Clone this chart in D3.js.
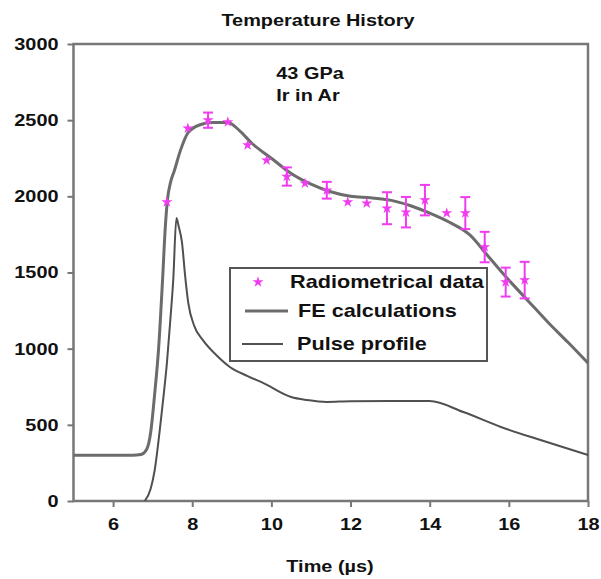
<!DOCTYPE html>
<html>
<head>
<meta charset="utf-8">
<script src="https://cdn.jsdelivr.net/npm/d3@7"></script>
<style>
  body { margin: 0; background: #fff; }
  svg { display: block; }
</style>
</head>
<body>
<svg id="chart" width="601" height="579"></svg>
<script>
// radiometrical data (time in us, temperature in K, error bar half-height)
var dataTime = [7.36, 7.89, 8.4, 8.9, 9.4, 9.88, 10.39, 10.85, 11.4, 11.93, 12.41, 12.92, 13.4, 13.88, 14.43, 14.9, 15.39, 15.92, 16.4];
var dataTemp = [1962, 2447, 2500, 2487, 2336, 2237, 2130, 2085, 2040, 1962, 1955, 1922, 1896, 1975, 1890, 1890, 1667, 1437, 1450];
var dataErr = [0, 0, 50, 0, 0, 0, 60, 0, 55, 0, 0, 105, 100, 100, 0, 105, 100, 95, 120];

// FE calculations
var feTime = [5, 6.5, 6.7, 6.85, 6.95, 7.05, 7.15, 7.25, 7.32, 7.38, 7.45, 7.55, 7.7, 7.9, 8.2, 8.5, 8.9, 9.2, 9.5, 10, 10.5, 11, 11.5, 12, 12.5, 13, 13.5, 14, 14.5, 15, 15.5, 16, 16.5, 17, 17.5, 18];
var feTemp = [300, 300, 305, 340, 450, 700, 1000, 1450, 1800, 1990, 2090, 2170, 2300, 2420, 2470, 2485, 2485, 2430, 2350, 2250, 2150, 2080, 2030, 2000, 1990, 1975, 1940, 1890, 1830, 1750, 1600, 1450, 1310, 1170, 1040, 905];

// pulse profile
var pulseTime = [6.8, 6.95, 7.05, 7.18, 7.28, 7.36, 7.45, 7.52, 7.6, 7.66, 7.74, 7.82, 7.9, 8.05, 8.27, 8.6, 8.95, 9.4, 9.8, 10.5, 10.9, 11.4, 12, 13, 14, 14.85, 15.8, 16.8, 18];
var pulseTemp = [0, 80, 200, 466, 700, 905, 1200, 1450, 1857, 1800, 1700, 1480, 1300, 1150, 1056, 960, 880, 820, 774, 683, 663, 650, 655, 656, 656, 584, 486, 400, 302];

var xTicks = [6, 8, 10, 12, 14, 16, 18];
var yTicks = [0, 500, 1000, 1500, 2000, 2500, 3000];

var svg = d3.select("svg#chart"),
    margin = { left: 73.5, top: 44, right: 13, bottom: 78 },
    width = +svg.attr("width"),
    height = +svg.attr("height"),
    font = "Arial, 'Liberation Sans', sans-serif",
    stretch = 1.17,
    axisColor = "#777",
    magenta = "#f03cf0",
    x = d3.scaleLinear().domain([5, 18]).range([margin.left, width - margin.right]),
    y = d3.scaleLinear().domain([0, 3000]).range([height - margin.bottom, margin.top]);

// axes
var xAxis = svg.append("g")
    .attr("transform", "translate(0," + y(0) + ")")
    .call(d3.axisBottom(x).tickValues(xTicks).tickSize(6).tickPadding(8).tickFormat(d3.format("d")));
var yAxis = svg.append("g")
    .attr("transform", "translate(" + x(5) + ",0)")
    .call(d3.axisLeft(y).tickValues(yTicks).tickSize(6).tickPadding(9).tickFormat(d3.format("d")));

[xAxis, yAxis].forEach(function (a) {
    a.select(".domain").remove();
    a.selectAll(".tick line").attr("stroke", axisColor).attr("stroke-width", 2);
    a.selectAll(".tick text")
        .attr("fill", "#111")
        .style("font-family", font)
        .style("font-weight", "bold")
        .style("font-size", "17px");
});
xAxis.selectAll(".tick text").attr("dy", "0.9em");

// plot frame
svg.append("rect")
    .attr("x", x(5))
    .attr("y", y(3000))
    .attr("width", x(18) - x(5))
    .attr("height", y(0) - y(3000))
    .attr("fill", "none")
    .attr("stroke", axisColor)
    .attr("stroke-width", 2.5);

var line = d3.line().curve(d3.curveMonotoneX);

// pulse profile
svg.append("path")
    .attr("d", line(pulseTime.map((t, i) => [x(t), y(pulseTemp[i])])))
    .attr("fill", "none")
    .attr("stroke", "#505050")
    .attr("stroke-width", 2);

// FE calculations
svg.append("path")
    .attr("d", line(feTime.map((t, i) => [x(t), y(feTemp[i])])))
    .attr("fill", "none")
    .attr("stroke", "#6c6c6c")
    .attr("stroke-width", 3);

// error bars
var pts = dataTime.map((t, i) => ({ t: t, v: dataTemp[i], e: dataErr[i] }));
var eb = svg.append("g").selectAll("g").data(pts.filter(d => d.e > 0)).enter().append("g")
    .attr("stroke", magenta).attr("stroke-width", 2);
eb.append("line")
    .attr("x1", d => x(d.t)).attr("x2", d => x(d.t))
    .attr("y1", d => y(d.v - d.e)).attr("y2", d => y(d.v + d.e));
eb.append("line")
    .attr("x1", d => x(d.t) - 5).attr("x2", d => x(d.t) + 5)
    .attr("y1", d => y(d.v - d.e)).attr("y2", d => y(d.v - d.e));
eb.append("line")
    .attr("x1", d => x(d.t) - 5).attr("x2", d => x(d.t) + 5)
    .attr("y1", d => y(d.v + d.e)).attr("y2", d => y(d.v + d.e));

// star markers
var star = d3.symbol().type(d3.symbolStar).size(38);
svg.append("g").selectAll("path").data(pts).enter().append("path")
    .attr("d", star)
    .attr("transform", d => "translate(" + x(d.t) + "," + y(d.v) + ")")
    .attr("fill", magenta);

// titles
function label(tx, ty, txt, size) {
    return svg.append("text")
        .attr("x", tx).attr("y", ty)
        .attr("text-anchor", "middle")
        .style("font-family", font).style("font-weight", "bold").style("font-size", size || "17px")
        .attr("fill", "#111")
        .text(txt);
}
label(318, 26, "Temperature History");
label(310, 79, "43 GPa");
label(308, 101, "Ir in Ar");
label(330, 572, "Time (µs)");

// legend
var legend = svg.append("g").attr("class", "legend");
legend.append("rect")
    .attr("x", 230).attr("y", 268)
    .attr("width", 257).attr("height", 93)
    .attr("fill", "#fff")
    .attr("stroke", "#555")
    .attr("stroke-width", 2);

legend.append("path")
    .attr("d", star)
    .attr("transform", "translate(258,282)")
    .attr("fill", magenta);
legend.append("line")
    .attr("x1", 245).attr("x2", 288).attr("y1", 311).attr("y2", 311)
    .attr("stroke", "#6c6c6c").attr("stroke-width", 3);
legend.append("line")
    .attr("x1", 242).attr("x2", 283).attr("y1", 344).attr("y2", 344)
    .attr("stroke", "#505050").attr("stroke-width", 2);

var legendItems = ["Radiometrical data", "FE calculations", "Pulse profile"];
var legendX = [290, 298, 297];
var legendY = [282, 311, 344];
legend.selectAll("text.item").data(legendItems).enter().append("text")
    .attr("class", "item")
    .attr("x", (d, i) => legendX[i])
    .attr("y", (d, i) => legendY[i])
    .attr("dy", "0.35em")
    .style("font-family", font).style("font-weight", "bold").style("font-size", "18.5px")
    .attr("fill", "#111")
    .text(d => d);

// the original lettering is a bit wider than Arial, stretch it
svg.selectAll("text").each(function () {
    var w = this.getComputedTextLength();
    d3.select(this).attr("textLength", w * stretch).attr("lengthAdjust", "spacingAndGlyphs");
});
</script>
</body>
</html>
